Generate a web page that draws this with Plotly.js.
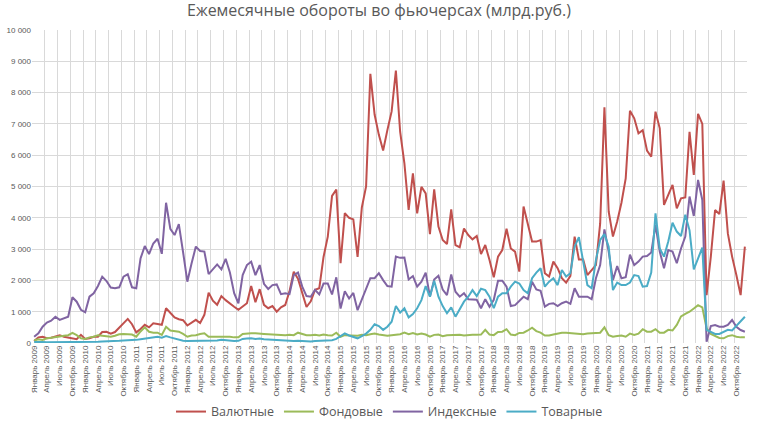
<!DOCTYPE html>
<html>
<head>
<meta charset="utf-8">
<script src="https://cdn.plot.ly/plotly-3.0.1.min.js"></script>
<style>html,body{margin:0;padding:0;background:#fff;}#chart{width:758px;height:426px;}</style>
</head>
<body>
<div id="chart"></div>
<script>
const monthNames = ["Январь","Февраль","Март","Апрель","Май","Июнь","Июль","Август","Сентябрь","Октябрь","Ноябрь","Декабрь"];
const years = [2009,2010,2011,2012,2013,2014,2015,2016,2017,2018,2019,2020,2021,2022];
const categories = [];
years.forEach(y => monthNames.forEach(m => categories.push(m + " " + y)));

const seriesNames = ["Валютные","Фондовые","Индексные","Товарные"];

const valyutnye = [
  60,180,200,150,170,220,250,200,170,140,120,260,
  130,150,200,200,350,360,300,350,500,650,770,600,
  340,450,580,500,630,610,580,1110,970,820,760,730,
  560,660,740,640,900,1610,1350,1220,1500,1370,1250,1160,
  1060,1160,1270,1820,1300,1720,1220,1110,1180,1000,1140,1215,
  1650,2280,2050,1600,1150,1330,1700,1750,2750,3400,4700,4900,
  2550,4150,4000,3950,2750,4330,5000,8600,7300,6650,6150,6800,
  7400,8700,6750,5740,4250,5420,4140,4990,4780,3480,4910,3720,
  3290,3160,4270,3130,3060,3660,3450,3310,3420,2840,3130,2650,
  2100,2760,2970,3650,3020,2920,2280,4360,3770,3240,3240,3290,
  2230,2120,2600,2390,2070,1930,2140,3400,2670,2670,2170,2330,
  2490,3820,7530,4200,3400,3880,4480,5260,7420,7180,6700,6800,
  6150,5950,7390,6860,4410,4730,5050,4300,4620,4650,6750,5370,
  7320,7000,1530,2760,4250,4120,5190,3500,2760,2170,1530,3080
];
const fondovye = [
  80,120,100,150,170,200,210,230,250,320,250,150,
  130,180,200,250,230,220,200,230,280,290,280,270,
  200,370,500,360,330,330,260,520,400,390,360,290,
  200,240,250,290,310,200,200,200,220,220,200,180,
  180,290,310,310,310,290,290,280,270,260,260,250,
  260,250,330,280,250,250,260,240,270,250,240,330,
  200,250,240,240,230,260,250,280,300,270,250,230,
  250,260,280,330,280,320,270,300,270,200,260,270,
  220,250,260,250,260,240,260,260,260,270,420,270,
  250,350,360,440,270,250,320,330,400,490,380,330,
  240,240,270,300,330,330,320,300,300,280,300,300,
  320,330,500,250,200,220,240,200,300,260,300,440,
  360,360,440,330,330,420,400,580,850,930,1000,1100,
  1210,1140,470,290,220,160,150,220,250,200,180,180
];
const indeksnye = [
  200,310,520,650,710,840,740,780,840,1460,1320,1060,
  980,1480,1590,1820,2120,1980,1770,1750,1780,2120,2200,1780,
  1750,2700,3100,2840,3180,3330,2850,4480,3650,3450,3800,2900,
  1960,2545,3080,2940,2920,2200,2350,2510,2350,2690,2250,1590,
  1270,2170,2490,2600,2170,2490,1890,1725,1850,1870,1560,1590,
  1560,2170,2250,1800,1500,1480,1700,1550,1900,1900,1550,2100,
  1100,1650,1420,1600,1050,1370,1700,2070,2070,2230,2010,1820,
  1800,2760,2720,2730,2030,2140,1800,1960,2250,1480,2030,2150,
  1710,1530,2190,1640,1480,1590,1400,1400,1380,1110,1400,1160,
  1380,1990,1990,1800,1180,1210,1350,1480,1400,1960,1710,1670,
  1160,1250,1270,1180,1270,1320,1250,1750,1480,1480,1480,1400,
  2070,2490,3630,2920,2010,2460,2070,2100,2820,2490,2600,2760,
  2780,2890,3770,2920,2390,2970,2920,2550,3020,3400,4680,4060,
  5210,4570,40,540,575,520,520,575,735,520,415,360
];
const tovarnye = [
  30,40,30,20,20,20,20,20,20,20,20,30,
  30,30,40,40,50,50,60,60,70,80,80,90,
  100,120,140,160,190,200,170,220,180,140,110,70,
  60,60,60,70,70,60,70,80,100,80,70,60,
  70,130,140,150,130,140,120,110,110,100,90,80,
  70,60,70,60,50,50,60,70,80,80,90,130,
  220,310,240,200,150,220,300,420,600,540,420,520,
  680,1180,970,1110,820,925,1110,1370,1820,1480,1990,1480,
  1180,950,1140,840,1075,1320,1480,1690,1500,1735,1690,1480,
  1110,1480,1590,1590,1800,1960,1900,1690,1590,2070,2250,2390,
  1800,1960,2070,1850,2330,2120,2230,3080,3380,2650,1850,1750,
  2650,3290,3480,3080,1690,1930,1850,1850,1930,2170,2140,1800,
  1820,2250,4140,3020,2760,3240,3840,3560,3420,4100,3600,2350,
  2700,3050,420,360,290,290,360,420,400,550,700,840
];

const colors = ["#C0504D","#9BBB59","#8064A2","#4BACC6"];
const allSeries = [valyutnye, fondovye, indeksnye, tovarnye];
const xs = categories.map((_, i) => i);

const traces = allSeries.map((vals, k) => ({
  type: "scatter", mode: "lines", name: seriesNames[k],
  x: xs, y: vals,
  line: {color: colors[k], width: 2},
  hoverinfo: "skip"
}));

const tickIdx = xs.filter(i => i % 3 === 0);
const tickText = tickIdx.map(i => categories[i]);

const gray = "#595959";
const layout = {
  width: 758, height: 426,
  margin: {l: 32, r: 11, t: 30, b: 83},
  paper_bgcolor: "#fff", plot_bgcolor: "#fff",
  separators: ", ",
  font: {family: "Liberation Sans, Arial, sans-serif", color: gray},
  title: {text: "Ежемесячные обороты во фьючерсах (млрд.руб.)",
          font: {family: "Open Sans, sans-serif", size: 16, color: gray},
          x: 0.5, xanchor: "center", y: 0.975, yanchor: "middle"},
  showlegend: true,
  legend: {orientation: "h", x: 0.5, xanchor: "center",
           yref: "container", y: 0.033, yanchor: "middle",
           font: {family: "Open Sans, sans-serif", size: 12.5, color: gray},
           itemwidth: 30, tracegroupgap: 0},
  xaxis: {
    type: "linear", range: [-0.5, 167.5], fixedrange: true, automargin: false,
    tickmode: "array", tickvals: tickIdx, ticktext: tickText,
    tickangle: -90, tickfont: {size: 8, color: gray},
    showgrid: false, zeroline: false, showline: false, ticks: "",
    minor: {tick0: -0.5, dtick: 3, showgrid: true, gridcolor: "#d9d9d9", gridwidth: 1, ticks: ""}
  },
  yaxis: {
    range: [0, 10000], dtick: 1000, tickformat: ",d", automargin: false,
    tickfont: {size: 8, color: gray},
    showgrid: true, gridcolor: "#d9d9d9", gridwidth: 1,
    zeroline: false, showline: false, ticks: "", fixedrange: true
  }
};

Plotly.newPlot("chart", traces, layout, {displayModeBar: false, staticPlot: true});
</script>
</body>
</html>
